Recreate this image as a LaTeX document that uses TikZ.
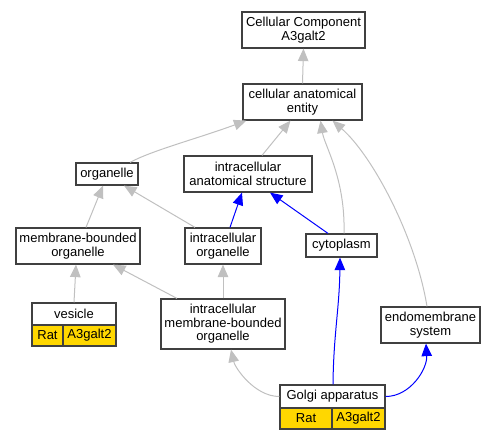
\documentclass[tikz,border=0pt]{standalone}
\usepackage{fontspec}
\setmainfont{Liberation Sans}
\usetikzlibrary{arrows.meta,calc}
\definecolor{edgegray}{RGB}{192,192,192}
\definecolor{edgeblue}{RGB}{0,0,255}
\definecolor{cellgold}{RGB}{255,215,0}
\definecolor{boxline}{RGB}{64,64,64}
\tikzset{
  box/.style={draw=boxline,line width=1.2pt,fill=white,inner sep=0pt,align=center,
    font=\fontsize{13}{13.5}\selectfont},
  goldcell/.style={box,fill=cellgold},
  isa/.style={draw=edgegray,line width=1pt,-{Triangle[length=12.5pt,width=10.5pt,fill=edgegray]}},
  partof/.style={draw=edgeblue,line width=1pt,-{Triangle[length=12.5pt,width=10.5pt,fill=edgeblue]}},
}
\begin{document}
\begin{tikzpicture}[x=1pt,y=-1pt]
\useasboundingbox (0,0) rectangle (496,440);
% nodes
\node[box,minimum width=123pt,minimum height=36pt] (cc) at (303.5,30) {Cellular Component\\A3galt2};
\node[box,minimum width=119pt,minimum height=36pt] (cae) at (302.5,102) {cellular anatomical\\entity};
\node[box,minimum width=62pt,minimum height=22pt] (org) at (107,174) {organelle};
\node[box,minimum width=128pt,minimum height=36pt] (ias) at (248,174) {intracellular\\anatomical structure};
\node[box,minimum width=124pt,minimum height=36pt] (mbo) at (78,246) {membrane-bounded\\organelle};
\node[box,minimum width=76pt,minimum height=36pt] (io) at (223,246) {intracellular\\organelle};
\node[box,minimum width=71pt,minimum height=23pt] (cyto) at (341.5,245.5) {cytoplasm};
\node[box,minimum width=84pt,minimum height=22pt] (ves) at (74,314) {vesicle};
\node[goldcell,minimum width=31pt,minimum height=21pt] (vesrat) at (47.5,335.5) {Rat};
\node[goldcell,minimum width=53pt,minimum height=21pt] (vesgene) at (89.5,335.5) {A3galt2};
\node[box,minimum width=124pt,minimum height=50pt] (imbo) at (223,324) {intracellular\\membrane-bounded\\organelle};
\node[box,minimum width=99pt,minimum height=36pt] (endo) at (430.5,325) {endomembrane\\system};
\node[box,minimum width=105pt,minimum height=23pt] (golgi) at (332.5,396.5) {Golgi apparatus};
\node[goldcell,minimum width=52pt,minimum height=21pt] (golgirat) at (306,418.5) {Rat};
\node[goldcell,minimum width=53pt,minimum height=21pt] (golgigene) at (358.5,418.5) {A3galt2};
% edges
\draw[isa] (cae.north) -- (cc.south);
\draw[isa] ([xshift=23pt]org.north) .. controls ($(org.north)+(45,-12)$) and ($(cae.south west)+(-45,18)$) .. ([xshift=4pt]cae.south west);
\draw[isa] ([xshift=14pt]ias.north) -- ([xshift=-12pt]cae.south);
\draw[isa] ([xshift=2.5pt]cyto.north) .. controls ($(cyto.north)+(4,-55)$) and ($(cae.south)+(22,25)$) .. ([xshift=18pt]cae.south);
\draw[isa] ([xshift=-3.5pt]endo.north) .. controls ($(endo.north)+(-15,-70)$) and ($(cae.south)+(70,35)$) .. ([xshift=30pt]cae.south);
\draw[isa] ([xshift=8pt]mbo.north) -- ([xshift=-4pt]org.south);
\draw[isa] ([xshift=-28pt]io.north) -- ([xshift=17pt]org.south);
\draw[partof] ([xshift=7pt]io.north) -- ([xshift=-6pt]ias.south);
\draw[partof] ([xshift=-13.5pt]cyto.north) -- ([xshift=22pt]ias.south);
\draw[isa] (ves.north) -- ([xshift=-2pt]mbo.south);
\draw[isa] ([xshift=-46pt]imbo.north) -- ([xshift=35pt]mbo.south);
\draw[isa] (imbo.north) -- (io.south);
\draw[isa] (golgi.west) .. controls ($(golgi.west)+(-25,0)$) and ($(imbo.south)+(12,18)$) .. ([xshift=8pt]imbo.south);
\draw[partof] ([xshift=0.5pt]golgi.north) .. controls ($(golgi.north)+(1,-50)$) and ($(cyto.south)+(-2,50)$) .. ([xshift=-1.5pt]cyto.south);
\draw[partof] (golgi.east) .. controls ($(golgi.east)+(25,0)$) and ($(endo.south)+(-3,25)$) .. ([xshift=-4.5pt]endo.south);
\end{tikzpicture}
\end{document}
